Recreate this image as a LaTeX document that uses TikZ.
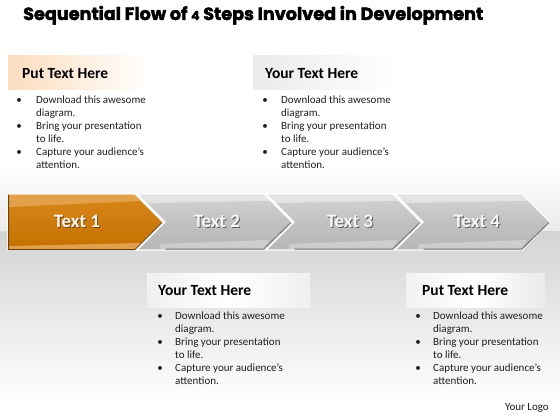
\documentclass[tikz,border=0pt]{standalone}
\usepackage{fontspec}
\setmainfont{Carlito}
\newfontfamily\titlefont{Poppins}[FakeBold=2.2]
\usetikzlibrary{calc}
\definecolor{orA}{HTML}{C47000}
\definecolor{orB}{HTML}{D8871A}
\definecolor{orL}{HTML}{EDB46A}
\definecolor{orD}{HTML}{6E4210}
\definecolor{grA}{HTML}{D4D4D4}
\definecolor{grB}{HTML}{B6B6B6}
\definecolor{grD}{HTML}{747474}
\definecolor{peach}{HTML}{FCDDBE}
\tikzset{
  headtxt/.style={anchor=base west,inner sep=0pt,font=\fontsize{15.5}{18}\selectfont\bfseries,text=black},
  bodytxt/.style={anchor=base west,inner sep=0pt,font=\fontsize{11}{13}\selectfont,text=black!88},
  bul/.style={anchor=base,inner sep=0pt,font=\fontsize{11}{13}\selectfont,text=black!88},
  arrowtxt/.style={inner sep=0pt,font=\fontsize{19}{22}\selectfont\bfseries},
  grayarrow/.style={draw=white,line width=1.2pt,top color=grA,bottom color=grB,middle color=grB!85!white},
  orangearrow/.style={draw=white,line width=1.2pt,top color=orB,bottom color=orA},
}
\begin{document}
\begin{tikzpicture}[x=1pt,y=1pt]
\useasboundingbox (0,0) rectangle (560,-420);
% background
\fill[white] (0,0) rectangle (560,-420);
\shade[top color=white,bottom color=black!8] (0,-165) rectangle (560,-231);
\shade[top color=black!17,bottom color=white] (0,-231) rectangle (560,-405);
% title
\node[anchor=base west,inner sep=0pt] (title) at (23,-20)
  {\resizebox{460pt}{!}{\titlefont\bfseries Sequential Flow of {\fontsize{7}{8}\selectfont 4} Steps Involved in Development}};
% heading boxes
\shade[left color=peach,right color=white] (8,-56) rectangle (150,-90);
\shade[left color=black!8,right color=white] (253,-56) rectangle (398,-90);
\shade[left color=white!94!black,right color=white!94!black,middle color=white] (147,-273) rectangle (310,-307);
\shade[left color=white!95!black,right color=white!92!black,middle color=white] (406,-273) rectangle (545,-307);
\node[headtxt] (h1) at (22,-78) {Put Text Here};
\node[headtxt] (h2) at (265,-78) {Your Text Here};
\node[headtxt] (h3) at (158,-295) {Your Text Here};
\node[headtxt] (h4) at (422,-295) {Put Text Here};
% bullet lists
\foreach \bx/\tx/\by/\nm in {19/36/103.5/a,265/281/103.5/b,160/175/319.5/c,418/433/319.5/d}{
  \node[bul] (\nm b1) at (\bx,-\by) {•};
  \node[bodytxt] (\nm l1) at (\tx,-\by) {Download this awesome};
  \node[bodytxt] (\nm l2) at (\tx,-\by-13) {diagram.};
  \node[bul] (\nm b2) at (\bx,-\by-26) {•};
  \node[bodytxt] (\nm l3) at (\tx,-\by-26) {Bring your presentation};
  \node[bodytxt] (\nm l4) at (\tx,-\by-39) {to life.};
  \node[bul] (\nm b3) at (\bx,-\by-52) {•};
  \node[bodytxt] (\nm l5) at (\tx,-\by-52) {Capture your audience’s};
  \node[bodytxt] (\nm l6) at (\tx,-\by-65) {attention.};
}
% arrows
\foreach \k in {2,3,4}{
  \pgfmathsetmacro{\L}{135+129*(\k-2)+2}
  \pgfmathsetmacro{\R}{135+129*(\k-1)}
  \path[grayarrow] (\L,-194) -- (\R,-194) -- (\R+28,-222) -- (\R,-250) -- (\L,-250) -- (\L+28,-222) -- cycle;
  \fill[white,opacity=0.4] (\L+1,-195) -- (\R,-195) -- (\R+6,-201) -- (\L+7,-203) -- cycle;
  \fill[white,opacity=0.3] (\L+24,-244) -- (\R+5,-240) -- (\R-1,-249) -- (\L+22,-249) -- cycle;
  \draw[grD,line width=1pt] (\L+28.5,-249) -- (\R,-249) -- (\R+27,-222.5);
}
\path[orangearrow] (8,-194) -- (135,-194) -- (163,-222) -- (135,-250) -- (8,-250) -- cycle;
\fill[orL,opacity=0.6] (9,-195) -- (135,-195) -- (141,-201) -- (9,-207) -- cycle;
\fill[orL,opacity=0.7] (9,-246) -- (141,-243) -- (135,-249) -- (9,-249) -- cycle;
\draw[orD,line width=1pt] (8.5,-194.5) -- (8.5,-249.5) -- (135,-249.5) -- (162,-222.5);
% arrow labels
\node[arrowtxt,text=orD] (t1s) at (78,-222) {Text 1};
\node[arrowtxt,text=white!92!orange] (t1) at (77,-221) {Text 1};
\node[arrowtxt,text=black!62] (t2s) at (218,-222) {Text 2};
\node[arrowtxt,text=white!97!black] (t2) at (217,-221) {Text 2};
\node[arrowtxt,text=black!62] (t3s) at (351,-222) {Text 3};
\node[arrowtxt,text=white!97!black] (t3) at (350,-221) {Text 3};
\node[arrowtxt,text=black!62] (t4s) at (478,-222) {Text 4};
\node[arrowtxt,text=white!97!black] (t4) at (477,-221) {Text 4};
% logo
\node[anchor=base east,inner sep=0pt,font=\fontsize{11}{13}\selectfont,text=black!88] (logo) at (549,-410) {Your Logo};
\end{tikzpicture}
\end{document}
